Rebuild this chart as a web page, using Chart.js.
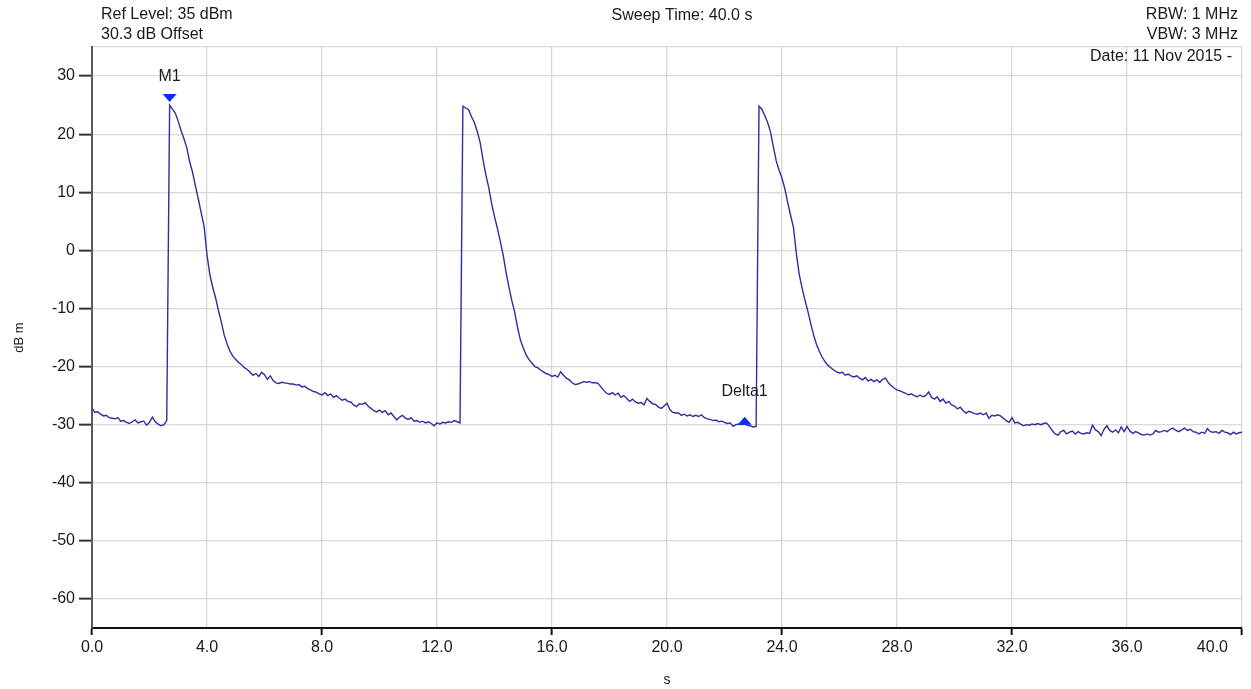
<!DOCTYPE html>
<html><head><meta charset="utf-8">
<script src="https://cdn.jsdelivr.net/npm/chart.js@4.4.1/dist/chart.umd.min.js"></script>
<style>html,body{margin:0;padding:0;background:#fff;overflow:hidden}</style>
</head><body>
<canvas id="c" width="1251" height="689"></canvas>
<script>
// ---- data (sweep sampled every 0.1 s, 0.0 .. 40.0 s) ----
const SWEEP_STEP = 0.1;
const trace0to10 = [
 -27.2,-27.9,-27.8,-28.2,-28.5,-28.4,-28.8,-28.9,-29.0,-28.8,
 -29.4,-29.3,-29.6,-29.8,-29.5,-29.2,-29.7,-29.5,-29.4,-30.1,
 -29.6,-28.7,-29.5,-29.9,-30.2,-30.0,-29.3, 25.0, 24.3, 23.6,
  22.2, 20.6, 19.2, 17.6, 15.2, 13.4, 11.0,  8.8,  6.4,  4.1,
  -0.8, -4.2, -6.4, -8.2,-10.4,-12.4,-14.6,-16.1,-17.4,-18.2,
 -18.8,-19.3,-19.7,-20.2,-20.5,-21.0,-21.5,-21.2,-21.7,-21.0,
 -21.4,-22.2,-21.6,-22.4,-22.8,-22.9,-22.7,-22.8,-22.9,-23.0,
 -23.0,-23.2,-23.1,-23.5,-23.4,-23.8,-24.0,-24.3,-24.4,-24.7,
 -24.9,-24.5,-25.0,-24.7,-25.3,-25.0,-25.4,-25.8,-25.6,-26.0,
 -26.1,-26.6,-26.9,-26.4,-26.5,-26.2,-26.8,-27.2,-27.6,-27.8
];
const trace10to20 = [
 -27.5,-27.9,-27.6,-28.3,-28.0,-28.6,-29.2,-28.7,-28.4,-28.9,
 -29.1,-28.8,-29.4,-29.3,-29.6,-29.4,-29.7,-29.5,-29.8,-30.2,
 -29.7,-29.9,-29.6,-29.7,-29.5,-29.6,-29.3,-29.5,-29.7, 24.8,
  24.5, 24.2, 23.0, 22.0, 20.5, 18.6, 15.6, 13.0, 10.8,  8.1,
   5.8,  3.8,  1.6, -0.8, -3.7, -6.3, -8.6,-10.6,-13.2,-15.4,
 -16.8,-18.0,-18.8,-19.4,-20.0,-20.2,-20.6,-20.9,-21.2,-21.4,
 -21.7,-21.5,-21.8,-20.9,-21.5,-22.0,-22.3,-22.8,-23.1,-23.0,
 -22.8,-22.6,-22.7,-22.6,-22.8,-22.8,-22.9,-23.5,-24.1,-24.6,
 -24.8,-24.5,-24.9,-24.6,-25.3,-25.0,-25.5,-26.0,-25.6,-26.1,
 -26.3,-26.2,-26.6,-25.5,-26.0,-26.4,-26.5,-27.0,-27.2,-26.8
];
const trace20to30 = [
 -26.3,-27.4,-27.9,-28.0,-28.0,-28.4,-28.2,-28.5,-28.3,-28.6,
 -28.4,-28.6,-28.3,-28.8,-29.0,-29.1,-29.3,-29.2,-29.5,-29.4,
 -29.6,-29.8,-29.7,-30.3,-30.0,-29.9,-30.0,-29.9,-30.1,-30.2,
 -30.4,-30.3, 24.8, 24.3, 23.2, 22.0, 20.4, 17.8, 15.4, 13.8,
  12.4, 10.6,  8.2,  6.0,  3.9, -0.6, -4.2, -6.5, -8.6,-10.5,
 -12.6,-14.6,-16.2,-17.4,-18.4,-19.2,-19.8,-20.2,-20.6,-20.9,
 -21.1,-21.0,-21.5,-21.3,-21.6,-21.8,-21.6,-22.0,-22.3,-21.9,
 -22.5,-22.2,-22.6,-22.3,-22.7,-22.2,-22.0,-22.8,-23.3,-23.7,
 -24.0,-24.2,-24.4,-24.6,-24.9,-24.7,-25.0,-25.2,-24.9,-25.2,
 -25.0,-24.4,-25.3,-25.6,-25.2,-26.0,-25.6,-26.3,-26.0,-26.6
];
const trace30to40 = [
 -26.8,-27.3,-27.0,-27.6,-28.0,-27.7,-27.9,-28.1,-28.2,-28.0,
 -28.3,-28.0,-28.9,-28.4,-28.5,-28.3,-28.5,-28.9,-29.3,-29.6,
 -28.8,-29.7,-29.6,-29.9,-30.2,-30.0,-30.1,-29.9,-30.0,-29.8,
 -30.0,-29.8,-29.7,-30.3,-31.0,-31.6,-31.8,-31.2,-31.0,-31.6,
 -31.3,-31.1,-31.6,-31.2,-31.5,-31.6,-31.4,-31.5,-30.1,-30.9,
 -31.2,-31.9,-30.8,-30.2,-31.0,-31.3,-30.9,-31.4,-30.4,-31.2,
 -30.3,-31.1,-31.5,-31.2,-31.4,-31.7,-31.8,-31.6,-31.8,-31.6,
 -31.0,-31.3,-31.2,-31.0,-31.2,-30.8,-30.6,-31.0,-31.2,-30.9,
 -30.6,-31.0,-30.8,-31.2,-31.3,-31.6,-31.3,-31.5,-30.7,-31.2,
 -31.3,-31.2,-31.5,-31.0,-31.3,-31.4,-31.7,-31.3,-31.6,-31.4,
 -31.3
];
const xTickValues = [0, 4, 8, 12, 16, 20, 24, 28, 32, 36, 40];
const xMarkedTicks = [0, 8, 16, 24, 32, 40];
const yTickValues = [-60, -50, -40, -30, -20, -10, 0, 10, 20, 30];
const markerNames = ['M1', 'Delta1'];
const markerTimes = [2.7, 22.7];
const markerValues = [25.0, -30.0];
const headerLeftLines = ['Ref Level: 35 dBm', '30.3 dB Offset'];
const headerCenterLines = ['Sweep Time: 40.0 s'];
const headerRightLines = ['RBW: 1 MHz', 'VBW: 3 MHz', 'Date: 11 Nov 2015 -'];

// ---- build ----
const traceValues = [].concat(trace0to10, trace10to20, trace20to30, trace30to40);
const tracePoints = traceValues.map((v, i) => ({ x: +(i * SWEEP_STEP).toFixed(1), y: v }));

const FONT = "'Liberation Sans', Arial, sans-serif";
Chart.defaults.font.family = FONT;

const overlay = {
  id: 'overlay',
  afterDraw(chart) {
    const ctx = chart.ctx, xs = chart.scales.x, ys = chart.scales.y, area = chart.chartArea;
    ctx.save();
    ctx.fillStyle = '#1a1a1a';
    ctx.font = '16px ' + FONT;
    ctx.textBaseline = 'middle';
    // x tick labels
    ctx.textAlign = 'left';
    xTickValues.forEach(v => {
      const t = v.toFixed(1);
      const w = ctx.measureText(t).width;
      let cx = xs.getPixelForValue(v);
      cx = Math.min(cx, area.right - 14 - w / 2);
      ctx.fillText(t, cx - w / 2, area.bottom + 20);
    });
    // header
    ctx.textAlign = 'left';
    headerLeftLines.forEach((t, i) => ctx.fillText(t, 101, 15 + i * 20));
    ctx.textAlign = 'center';
    headerCenterLines.forEach((t, i) => ctx.fillText(t, 682, 16 + i * 20));
    ctx.textAlign = 'right';
    ctx.fillText(headerRightLines[0], 1238, 15);
    ctx.fillText(headerRightLines[1], 1238, 35);
    ctx.fillText(headerRightLines[2], 1232, 57);
    // markers
    markerNames.forEach((name, i) => {
      const px = xs.getPixelForValue(markerTimes[i]);
      const py = ys.getPixelForValue(markerValues[i]);
      ctx.fillStyle = '#0a2cf5';
      ctx.beginPath();
      if (i === 0) {
        ctx.moveTo(px - 7, py - 11); ctx.lineTo(px + 7, py - 11); ctx.lineTo(px, py - 3);
      } else {
        ctx.moveTo(px - 7, py); ctx.lineTo(px + 7, py); ctx.lineTo(px, py - 8);
      }
      ctx.closePath(); ctx.fill();
      ctx.fillStyle = '#1a1a1a';
      ctx.textAlign = 'center';
      ctx.fillText(name, px, i === 0 ? py - 29 : py - 33);
    });
    ctx.restore();
  }
};

new Chart(document.getElementById('c'), {
  type: 'line',
  data: {
    datasets: [{
      data: tracePoints,
      borderColor: '#2e2e9e',
      borderWidth: 1.4,
      pointRadius: 0,
      tension: 0,
      fill: false
    }]
  },
  options: {
    responsive: false,
    animation: false,
    events: [],
    layout: { padding: { top: 47, right: 9, left: 0, bottom: 0 } },
    plugins: { legend: { display: false }, tooltip: { enabled: false } },
    scales: {
      x: {
        type: 'linear', min: 0, max: 40,
        afterBuildTicks: s => { s.ticks = xTickValues.map(v => ({ value: v })); },
        afterFit: s => { s.height = 61; },
        ticks: { display: false },
        grid: {
          color: '#d8d8d8', lineWidth: 1.3, tickLength: 7, tickWidth: 2,
          tickColor: c => (c.tick && xMarkedTicks.includes(c.tick.value)) ? '#111' : 'rgba(0,0,0,0)'
        },
        border: { color: '#111', width: 2 },
        title: { display: true, text: 's', color: '#222', font: { size: 14 }, padding: { top: 0, bottom: 0 } }
      },
      y: {
        type: 'linear', min: -65, max: 35,
        afterBuildTicks: s => { s.ticks = yTickValues.concat([35]).map(v => ({ value: v })); },
        afterFit: s => { s.width = 92; },
        ticks: {
          color: '#1a1a1a', font: { size: 16 }, padding: 4,
          callback: v => yTickValues.includes(v) ? String(v) : ''
        },
        grid: {
          color: '#d8d8d8', lineWidth: 1.3, tickLength: 13, tickWidth: 2,
          tickColor: c => (c.tick && yTickValues.includes(c.tick.value)) ? '#333' : 'rgba(0,0,0,0)'
        },
        border: { color: '#5a5a5a', width: 2 },
        title: { display: true, text: 'dB m', color: '#222', font: { size: 13 }, padding: { top: 12, bottom: 0 } }
      }
    }
  },
  plugins: [overlay]
});
</script>
</body></html>
